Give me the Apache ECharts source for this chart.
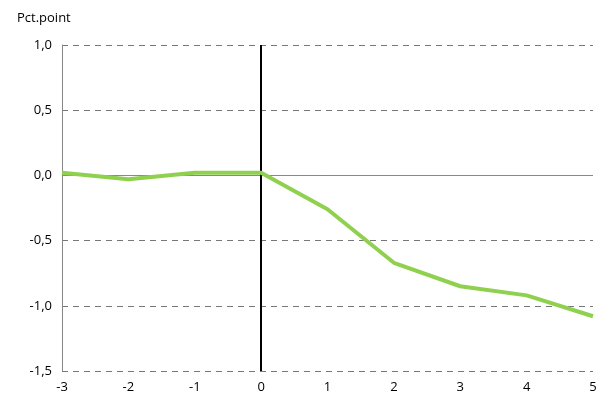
<!DOCTYPE html><html><head><meta charset="utf-8"><script src="https://cdn.jsdelivr.net/npm/echarts@6/dist/echarts.min.js"></script></head><body style="margin:0"><div id="c" style="width:602px;height:413px"></div><script>
const xs=[-3,-2,-1,0,1,2,3,4,5];
const vals=[0.02,-0.03,0.02,0.02,-0.26,-0.67,-0.85,-0.92,-1.08];
const c=echarts.init(document.getElementById('c'));
const fmt=v=>v.toFixed(1).replace('.',',');
c.setOption({animation:false,textStyle:{fontFamily:'Open Sans'},
title:{text:'Pct.point',left:12,top:7,textStyle:{fontSize:13,fontWeight:'normal',color:'#000',fontFamily:'Open Sans'}},
grid:{left:62,right:9,top:45,bottom:42},
xAxis:{type:'value',min:-3,max:5,interval:1,axisLine:{onZero:false,show:false},axisTick:{show:false},splitLine:{show:false},axisLabel:{color:'#000',fontSize:13,margin:10}},
yAxis:{type:'value',min:-1.5,max:1,interval:0.5,
axisLine:{show:true,onZero:false,lineStyle:{color:'#888'}},axisTick:{show:false},axisLabel:{color:'#000',fontSize:13,formatter:fmt,margin:10},
splitLine:{lineStyle:{type:[6,5],color:'#777'}}},
series:[{type:'line',data:xs.map((x,i)=>[x,vals[i]]),symbol:'none',lineStyle:{color:'#8fd14f',width:4},z:5,
markLine:{silent:true,symbol:'none',label:{show:false},data:[{yAxis:0,lineStyle:{color:'#888',type:'solid',width:1}},{xAxis:0,lineStyle:{color:'#000',type:'solid',width:2}}]}}]});
</script></body></html>
